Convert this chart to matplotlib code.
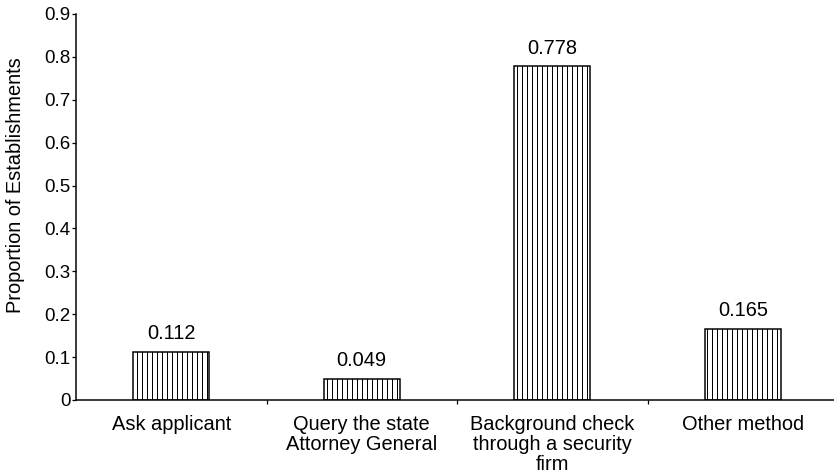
import matplotlib
matplotlib.use("Agg")
import matplotlib.pyplot as plt

# Data
categories = ["Ask applicant", "Query the state\nAttorney General",
              "Background check\nthrough a security\nfirm", "Other method"]
proportions = [0.112, 0.049, 0.778, 0.165]
y_ticks = [0, 0.1, 0.2, 0.3, 0.4, 0.5, 0.6, 0.7, 0.8, 0.9]
y_tick_labels = ["0", "0.1", "0.2", "0.3", "0.4", "0.5", "0.6", "0.7", "0.8", "0.9"]

plt.rcParams["font.family"] = ["Liberation Sans", "DejaVu Sans"]
plt.rcParams["hatch.linewidth"] = 0.8
plt.rcParams["hatch.color"] = "black"

dpi = 90
W, H = 834, 475
fig = plt.figure(figsize=(W / dpi, H / dpi), dpi=dpi)
ax = fig.add_axes([76 / W, (H - 400) / H, (834 - 76) / W, 386 / H])

x = list(range(len(categories)))
ax.bar(x, proportions, width=0.4, facecolor="white", edgecolor="black",
       linewidth=1.2, hatch="|||")

for xi, v in zip(x, proportions):
    ax.annotate(f"{v:.3f}", (xi, v), xytext=(0, 7), textcoords="offset points",
                ha="center", va="bottom", fontsize=16)

ax.set_xlim(-0.5, -0.5 + 758 / 190.5)
ax.set_ylim(0, 0.9)

ax.set_yticks(y_ticks)
ax.set_yticklabels(y_tick_labels, fontsize=15)
ax.tick_params(axis="y", direction="out", length=3.5, width=1, pad=1)

ax.set_xticks(x)
ax.set_xticklabels(categories, fontsize=16, linespacing=1.08)
ax.tick_params(axis="x", which="major", length=0, pad=12)
ax.set_xticks([0.5, 1.5, 2.5], minor=True)
ax.tick_params(axis="x", which="minor", direction="out", length=3.5, width=1)

ax.spines["top"].set_visible(False)
ax.spines["right"].set_visible(False)
ax.spines["left"].set_linewidth(1.2)
ax.spines["bottom"].set_linewidth(1.2)

fig.text(16 / W, 1 - 185 / H, "Proportion of Establishments", rotation=90,
         ha="center", va="center", fontsize=16)

fig.savefig("out.png", dpi=dpi)
